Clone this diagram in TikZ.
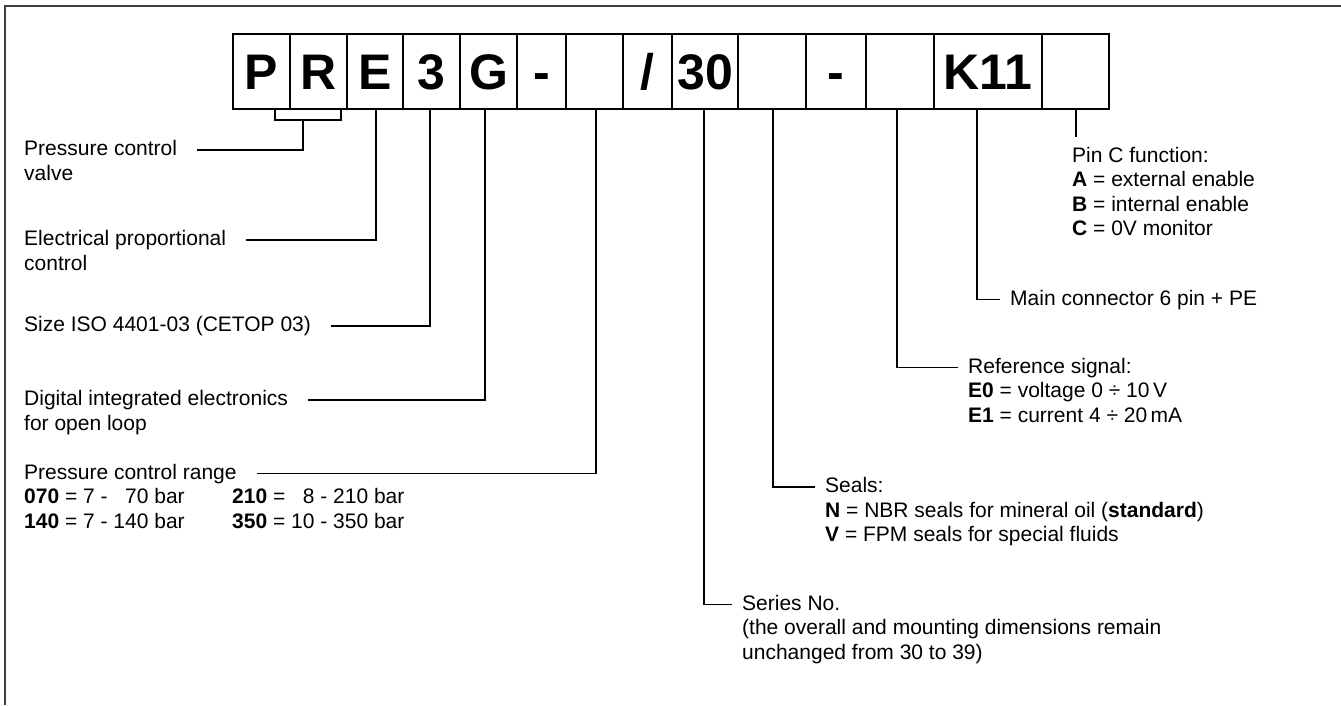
\documentclass[tikz,border=0pt]{standalone}
\usepackage{fontspec}
\setmainfont{Liberation Sans}
\tikzset{
		>=stealth,
		codebox/.style={draw, line width=1.1pt, minimum height=75pt, inner sep=0pt,
			text height=36pt, text depth=0pt, font=\fontsize{50}{50}\selectfont\bfseries},
		leader/.style={line width=1.1pt},
		txt/.style={inner sep=0pt, anchor=base west, font=\fontsize{21}{24.5}\selectfont},
		lefthead/.style={txt, inner xsep=20pt, text height=15pt, text depth=4pt},
		righthead/.style={txt, inner xsep=10pt, text height=15pt, text depth=4pt},
		frame/.style={draw=black!75, line width=2pt}
	}

\begin{document}
\begin{tikzpicture}[x=1pt, y=-1pt]
            \useasboundingbox (0,0) rectangle (1341,705);
            \draw[frame] (1341,6) -- (5,6) -- (5,705);

            % code boxes
            \foreach \nm/\xa/\xb/\txt in {bP/233/290/P, bR/290/347/R, bE/347/403/E, bSize/403/460/3,
                bG/460/517/G, bDashA/517/566/-, bRange/566/623/{}, bSlash/623/672/{/},
                bSeries/672/738/30, bSeal/738/806/{}, bDashB/806/866/-, bSignal/866/934/{},
                bConn/934/1042/K11, bPin/1042/1109/{}}
            {
                \pgfmathsetmacro{\boxw}{\xb-\xa}
                \pgfmathsetmacro{\boxc}{(\xa+\xb)/2}
                \node[codebox, minimum width=\boxw pt] (\nm) at (\boxc,71.5) {\txt};
            }

            % left labels
            \node[lefthead] (hValve) at (4,155.5) {Pressure control};
            \node[txt] (tValve) at (24,180) {valve};
            \node[lefthead] (hElec) at (4,245.5) {Electrical proportional};
            \node[txt] (tElec) at (24,270) {control};
            \node[lefthead] (hSize) at (4,331.5) {Size ISO 4401-03 (CETOP 03)};
            \node[lefthead] (hDigital) at (4,405.5) {Digital integrated electronics};
            \node[txt] (tDigital) at (24,430) {for open loop};
            \node[lefthead] (hRange) at (4,479) {Pressure control range};
            \node[txt] (tRange) at (24,503.5) {\begin{tabular}[t]{@{}p{208pt}@{}l@{}}
                \textbf{070} = 7 - \phantom{1}70 bar & \textbf{210} = \phantom{1}8 - 210 bar\\
                \textbf{140} = 7 - 140 bar & \textbf{350} = 10 - 350 bar
                \end{tabular}};

            % right labels
            \node[righthead] (hPin) at (1062,162) {Pin C function:};
            \node[txt] (tPin) at (1072,186.5) {\begin{tabular}[t]{@{}l@{}}
                \textbf{A} = external enable\\
                \textbf{B} = internal enable\\
                \textbf{C} = 0V monitor
                \end{tabular}};
            \node[righthead] (hConn) at (1000,305) {Main connector 6 pin + PE};
            \node[righthead] (hSignal) at (958,373) {Reference signal:};
            \node[txt] (tSignal) at (968,397.5) {\begin{tabular}[t]{@{}l@{}}
                \textbf{E0} = voltage 0 ÷ 10\,V\\
                \textbf{E1} = current 4 ÷ 20\,mA
                \end{tabular}};
            \node[righthead] (hSeal) at (815,492.5) {Seals:};
            \node[txt] (tSeal) at (825,517) {\begin{tabular}[t]{@{}l@{}}
                \textbf{N} = NBR seals for mineral oil (\textbf{standard})\\
                \textbf{V} = FPM seals for special fluids
                \end{tabular}};
            \node[righthead] (hSeries) at (732,610) {Series No.};
            \node[txt] (tSeries) at (742,634.5) {\begin{tabular}[t]{@{}l@{}}
                (the overall and mounting dimensions remain\\
                unchanged from 30 to 39)
                \end{tabular}};

            % leaders
            \coordinate (joinPR) at (303,120);
            \draw[leader] ([xshift=13.5pt]bP.south) |- (joinPR) -| ([xshift=22.5pt]bR.south);
            \draw[leader] (joinPR) |- (hValve.east);
            \draw[leader] ([xshift=1pt]bE.south) |- (hElec.east);
            \draw[leader] ([xshift=-1.5pt]bSize.south) |- (hSize.east);
            \draw[leader] ([xshift=-3.5pt]bG.south) |- (hDigital.east);
            \draw[leader] ([xshift=1.5pt]bRange.south) |- (hRange.east);
            \draw[leader] ([xshift=-1pt]bSeries.south) |- (hSeries.west);
            \draw[leader] ([xshift=1pt]bSeal.south) |- (hSeal.west);
            \draw[leader] ([xshift=-3pt]bSignal.south) |- (hSignal.west);
            \draw[leader] ([xshift=-11pt]bConn.south) |- (hConn.west);
            \coordinate (pinEnd) at (1076,137);
            \draw[leader] (bPin.south -| pinEnd) -- (pinEnd);
\end{tikzpicture}
\end{document}
